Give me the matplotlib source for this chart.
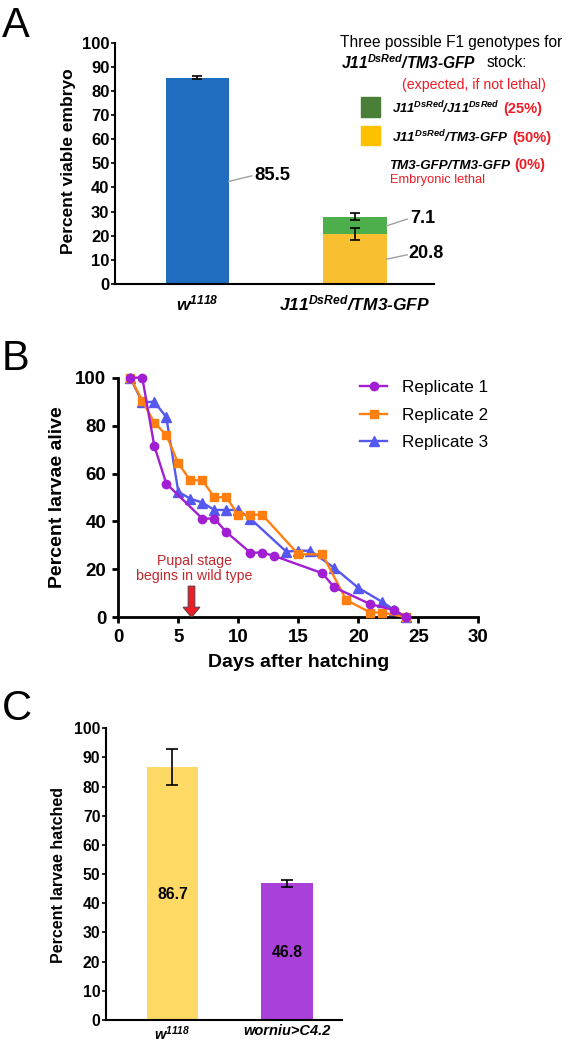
import numpy as np
import matplotlib.pyplot as plt

plt.rcParams['font.family'] = ['Liberation Sans', 'DejaVu Sans']
plt.rcParams['mathtext.default'] = 'regular'

# ---- panel A data ----
a_labels = [r'$w^{1118}$', r'$J11^{DsRed}$/TM3-GFP']
a_wt, a_wt_err = 85.5, 0.7
a_het, a_het_err = 20.8, 2.6     # J11/TM3-GFP (yellow)
a_hom, a_hom_err = 7.1, 1.4      # J11/J11 (green)

# ---- panel B data ----
r1_day = [1, 2, 3, 4, 7, 8, 9, 11, 12, 13, 17, 18, 21, 23, 24]
r1_pct = [100, 100, 71.5, 55.8, 41.2, 41.2, 35.6, 27.0, 27.0, 25.6, 18.4, 12.5, 5.5, 3.0, 0]
r2_day = [1, 2, 3, 4, 5, 6, 7, 8, 9, 10, 11, 12, 15, 17, 19, 21, 22, 24]
r2_pct = [100, 90.4, 81.2, 76.1, 64.2, 57.2, 57.2, 50.1, 50.1, 42.8, 42.8, 42.8, 26.3, 26.3, 7.2, 2.0, 2.0, 0]
r3_day = [1, 2, 3, 4, 5, 6, 7, 8, 9, 10, 11, 14, 15, 16, 18, 20, 22, 23, 24]
r3_pct = [100, 89.7, 90.0, 83.5, 52.4, 49.5, 47.9, 44.8, 44.8, 44.8, 41.2, 27.4, 27.8, 27.8, 20.6, 12.3, 6.4, 3.0, 0]
pupal_day = 6.1

# ---- panel C data ----
c_labels = [r'$w^{1118}$', 'worniu>C4.2']
c_vals = [86.7, 46.8]
c_errs = [6.1, 1.2]
c_colors = ['#FFD966', '#A940DA']

W, H = 566, 1042
fig = plt.figure(figsize=(W / 100, H / 100), dpi=100)


def px_axes(l, r, top, bottom):
    return fig.add_axes([l / W, 1 - bottom / H, (r - l) / W, (bottom - top) / H])


def fx(x):
    return x / W


def fy(y):
    return 1 - y / H


RED = '#EE1C25'

# ================= A =================
axA = px_axes(115, 434, 42.7, 284)
ekw = dict(lw=1.2, capthick=1.2, zorder=5)
axA.bar(0, a_wt, 0.4, color='#1F6DBF', yerr=a_wt_err, capsize=3.5, error_kw=ekw)
axA.bar(1, a_het, 0.4, color='#F8C031', yerr=a_het_err, capsize=3.5, error_kw=ekw)
axA.bar(1, a_hom, 0.4, bottom=a_het, color='#4DAE4C', yerr=a_hom_err, capsize=3.5, error_kw=ekw)
axA.set_xlim(-0.52, 1.5)
axA.set_ylim(0, 100)
axA.set_yticks(np.arange(0, 101, 10))
axA.set_xticks([0, 1])
axA.set_xticklabels(a_labels, fontsize=12.5, fontweight='bold', fontstyle='italic')
axA.tick_params(axis='x', length=0, pad=7)
axA.tick_params(axis='y', length=3, width=1.2, pad=1, labelsize=12)
for t in axA.get_yticklabels():
    t.set_fontweight('bold')
for s in ['top', 'right']:
    axA.spines[s].set_visible(False)
for s in ['left', 'bottom']:
    axA.spines[s].set_linewidth(1.5)
axA.text(-0.147, 0.507, 'Percent viable embryo', transform=axA.transAxes, rotation=90,
         ha='center', va='center', fontsize=12.5, fontweight='bold')

lead = '#A0A0A0'
axA.plot([0.2, 0.345], [42.5, 44.8], color=lead, lw=1)
axA.text(0.365, 45, f'{a_wt}', va='center', fontsize=13.3, fontweight='bold')
axA.plot([1.2, 1.33], [24.1, 26.9], color=lead, lw=1)
axA.text(1.35, 27.3, f'{a_hom}', va='center', fontsize=13, fontweight='bold')
axA.plot([1.2, 1.33], [10.3, 12.1], color=lead, lw=1)
axA.text(1.34, 12.6, f'{a_het}', va='center', fontsize=13, fontweight='bold')

# legend-like text block
fig.text(fx(451), fy(42.7), 'Three possible F1 genotypes for', ha='center', va='center', fontsize=11.2)
fig.text(fx(341), fy(62.7), r'$J11^{DsRed}$/TM3-GFP', ha='left', va='center',
         fontsize=11.2, fontweight='bold', fontstyle='italic')
fig.text(fx(527), fy(62.7), 'stock:', ha='right', va='center', fontsize=11.2)
fig.text(fx(474), fy(85.3), '(expected, if not lethal)', ha='center', va='center',
         fontsize=10.2, color=RED)

fig.patches.append(plt.Rectangle((fx(361), fy(116.7)), 19 / W, 19.4 / H,
                                 transform=fig.transFigure, color='#4A7F37'))
fig.patches.append(plt.Rectangle((fx(361), fy(145.5)), 19 / W, 19.4 / H,
                                 transform=fig.transFigure, color='#FFC000'))
rows = [(391.5, 113.5, r'$J11^{DsRed}$/$J11^{DsRed}$', '(25%)', 9.4),
        (391.5, 142, r'$J11^{DsRed}$/TM3-GFP', '(50%)', 9.6),
        (389.5, 169, 'TM3-GFP/TM3-GFP', '(0%)', 9.6)]
for x, y, g, p, fs in rows:
    tg = fig.text(fx(x), fy(y), g, ha='left', va='baseline', fontsize=fs,
                  fontweight='bold', fontstyle='italic')
    axA.annotate(p, xy=(1, fy(y)), xycoords=(tg, 'figure fraction'), xytext=(3, 0),
                 textcoords='offset points', va='baseline', fontsize=10.5,
                 fontweight='bold', color=RED, annotation_clip=False)
fig.text(fx(390), fy(180.5), 'Embryonic lethal', ha='left', va='center', fontsize=9.3, color=RED)

# ================= B =================
axB = px_axes(118.3, 478.3, 377.7, 617.3)
lw = 1.7
axB.plot(r3_day, r3_pct, '-^', color='#5558EE', lw=lw, ms=7, clip_on=False, label='Replicate 3', zorder=3)
axB.plot(r2_day, r2_pct, '-s', color='#FF8010', lw=lw, ms=5.5, clip_on=False, label='Replicate 2', zorder=3)
axB.plot(r1_day, r1_pct, '-o', color='#A21ED2', lw=lw, ms=6, clip_on=False, label='Replicate 1', zorder=4)
axB.set_xlim(0, 30)
axB.set_ylim(0, 100)
axB.set_xticks(np.arange(0, 31, 5))
axB.set_yticks(np.arange(0, 101, 20))
axB.tick_params(length=4.5, width=2, pad=4, labelsize=13.5)
for t in axB.get_xticklabels() + axB.get_yticklabels():
    t.set_fontweight('bold')
for s in ['top', 'right']:
    axB.spines[s].set_visible(False)
for s in ['left', 'bottom']:
    axB.spines[s].set_linewidth(2)
axB.text(0.5, -0.19, 'Days after hatching', transform=axB.transAxes, ha='center', va='center',
         fontsize=14, fontweight='bold')
axB.text(-0.168, 0.5, 'Percent larvae alive', transform=axB.transAxes, rotation=90,
         ha='center', va='center', fontsize=14, fontweight='bold')
h, l = axB.get_legend_handles_labels()
axB.legend(h[::-1], l[::-1], loc='upper left', bbox_to_anchor=(0.671, 0.99), frameon=False,
           fontsize=12.3, borderpad=0, borderaxespad=0, handlelength=1.6, handletextpad=0.85,
           labelspacing=0.74)
axB.arrow(pupal_day, 13, 0, -13, width=0.55, head_width=1.4, head_length=4.2,
          length_includes_head=True, fc='#EE1C25', ec='#6B3A4A', lw=0.8, zorder=5)
axB.text(pupal_day + 0.25, 20.4, 'Pupal stage\nbegins in wild type', ha='center', va='center',
         fontsize=10.2, color='#C1272D', linespacing=1.15)

# ================= C =================
axC = px_axes(106, 342, 728.3, 1020)
for i in range(2):
    axC.bar(i, c_vals[i], 0.45, color=c_colors[i], yerr=c_errs[i], capsize=4.5,
            error_kw=dict(lw=1.2, capthick=1.2))
axC.text(0, 43, f'{c_vals[0]}', ha='center', va='center', fontsize=11.3, fontweight='bold')
axC.text(1, 23, f'{c_vals[1]}', ha='center', va='center', fontsize=11.3, fontweight='bold')
axC.set_xlim(-0.58, 1.48)
axC.set_ylim(0, 100)
axC.set_yticks(np.arange(0, 101, 10))
axC.set_xticks([0, 1])
axC.set_xticklabels(c_labels, fontsize=10.5, fontweight='bold', fontstyle='italic')
axC.tick_params(axis='x', length=0, pad=3)
axC.tick_params(axis='y', length=3, width=1.2, pad=1, labelsize=11.3)
for t in axC.get_yticklabels():
    t.set_fontweight('bold')
for s in ['top', 'right']:
    axC.spines[s].set_visible(False)
for s in ['left', 'bottom']:
    axC.spines[s].set_linewidth(1.5)
axC.text(-0.203, 0.496, 'Percent larvae hatched', transform=axC.transAxes, rotation=90,
         ha='center', va='center', fontsize=11.5, fontweight='bold')

# panel letters
fig.text(fx(2), fy(37), 'A', fontsize=30, va='baseline')
fig.text(fx(2), fy(370), 'B', fontsize=30, va='baseline')
fig.text(fx(2), fy(720), 'C', fontsize=30, va='baseline')

fig.savefig('out.png', dpi=100)
